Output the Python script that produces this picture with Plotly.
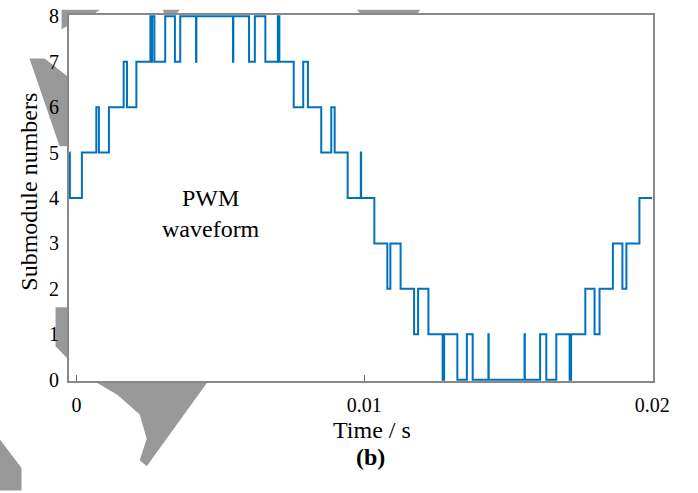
import plotly.graph_objects as go

# Switching instants (s) and submodule levels held from each instant (step 'hv')
switch_times = [-0.00024, -0.00023, 0.000188, 0.000689, 0.000779, 0.001127, 0.001639, 0.001754,
                0.002081, 0.002568, 0.002599, 0.002627, 0.002707, 0.003083, 0.003420, 0.003605,
                0.004154, 0.004165, 0.005438, 0.005449, 0.005995, 0.006197, 0.006562, 0.006997,
                0.007049, 0.007547, 0.007878, 0.008041, 0.008504, 0.008852, 0.008970, 0.009422,
                0.009878, 0.009889, 0.010348, 0.010800, 0.010905, 0.011260, 0.011729, 0.011869,
                0.012227, 0.012721, 0.012773, 0.013232, 0.013563, 0.013765, 0.014311, 0.014322,
                0.015567, 0.015578, 0.016107, 0.016322, 0.016670, 0.017133, 0.017185, 0.017679,
                0.017999, 0.018173, 0.018636, 0.018967, 0.019106, 0.019558, 0.020000]
levels = [5, 4, 5, 6, 5, 6, 7, 6,
          7, 8, 7, 8, 7, 8, 7, 8,
          7, 8, 7, 8, 7, 8, 7, 8,
          7, 6, 7, 6, 5, 6, 5, 4,
          5, 4, 3, 2, 3, 2, 1, 2,
          1, 0, 1, 0, 1, 0, 1, 0,
          1, 0, 1, 0, 1, 0, 1, 2,
          1, 2, 3, 2, 3, 4, 4]

x_tick_vals = [0, 0.01, 0.02]
x_tick_text = ["0", "0.01", "0.02"]
y_tick_vals = [0, 1, 2, 3, 4, 5, 6, 7, 8]

W, H = 698, 493
ML, MR, MT, MB = 69.4, 45.4, 5.3, 112.3
PW, PH = W - ML - MR, H - MT - MB

def px(x):
    return (x - ML) / PW

def py(y):
    return (H - MB - y) / PH

FONT = "Liberation Serif"
GRAY = "#999999"

fig = go.Figure()
fig.add_trace(go.Scatter(x=switch_times, y=levels, mode="lines",
                         line=dict(color="#0072BD", width=2, shape="hv"),
                         hoverinfo="skip", showlegend=False))

# watermark-like gray strokes outside the axes
polys = [
    [(93, 380), (209, 380), (147, 468), (140, 462), (147, 440), (140, 415), (118, 395)],
    [(357, 0), (420, 0), (416, 6), (362, 6)],
    [(62, 0), (100, 0), (95, 4), (82, 7), (72, 14), (62, 20)],
    [(163, 0), (180, 0), (176, 5), (165, 5)],
    [(30, 50), (45, 50), (70, 70), (70, 140), (60, 140)],
    [(56, 305), (70, 305), (70, 360), (56, 345)],
    [(0, 440), (22, 470), (22, 493), (0, 493)],
]
shapes = []
for poly in polys:
    path = "M " + " L ".join(f"{px(a):.4f},{py(b):.4f}" for a, b in poly) + " Z"
    shapes.append(dict(type="path", xref="paper", yref="paper", path=path,
                       fillcolor=GRAY, line=dict(width=0), layer="below"))
shapes.append(dict(type="rect", xref="paper", yref="paper", x0=0, x1=1, y0=0, y1=1,
                   fillcolor="white", line=dict(width=0), layer="below"))

annotations = [
    dict(text="PWM<br>waveform", x=px(211), y=py(208.5), xref="paper", yref="paper",
         showarrow=False, font=dict(family=FONT, size=24, color="black"),
         xanchor="center", yanchor="middle"),
    dict(text="Time / s", x=px(372), y=py(431), xref="paper", yref="paper",
         showarrow=False, font=dict(family=FONT, size=24, color="black"),
         xanchor="center", yanchor="middle"),
    dict(text="<b>(b)</b>", x=px(370), y=py(459), xref="paper", yref="paper",
         showarrow=False, font=dict(family=FONT, size=24, color="black"),
         xanchor="center", yanchor="middle"),
    dict(text="Submodule numbers", x=px(30), y=py(187), xref="paper", yref="paper",
         showarrow=False, textangle=-90, font=dict(family=FONT, size=24, color="black"),
         xanchor="center", yanchor="middle"),
]

fig.update_layout(
    width=W, height=H,
    margin=dict(l=ML, r=MR, t=MT, b=MB, pad=0),
    paper_bgcolor="white", plot_bgcolor="white",
    font=dict(family=FONT, color="black"),
    shapes=shapes, annotations=annotations,
    xaxis=dict(range=[-0.00026, 0.02003], tickvals=x_tick_vals, ticktext=x_tick_text,
               ticks="inside", ticklen=6, tickwidth=1, tickcolor="#666666",
               showline=True, linecolor="#888888", linewidth=2, mirror=True,
               showgrid=False, zeroline=False, layer="below traces",
               ticklabeloverflow="allow",
               tickfont=dict(family=FONT, size=20, color="black"), ticklabelstandoff=5),
    yaxis=dict(range=[-0.03, 8.03], tickvals=y_tick_vals,
               ticks="", showline=True, linecolor="#888888", linewidth=2, mirror=True,
               showgrid=False, zeroline=False, layer="below traces",
               ticklabeloverflow="allow",
               tickfont=dict(family=FONT, size=20, color="black"), ticklabelstandoff=4),
)

fig.write_html("out.html", config={"displayModeBar": False},
               post_script="document.body.style.margin='0px';")
